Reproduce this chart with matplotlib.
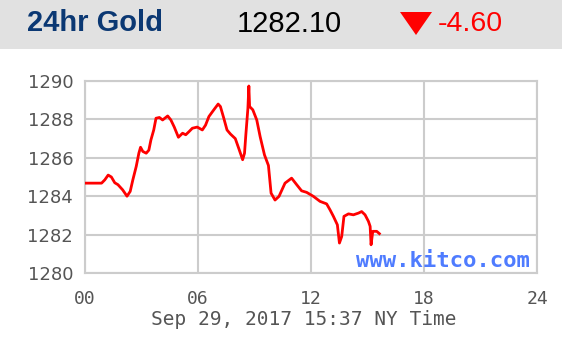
import matplotlib
matplotlib.use('Agg')
import matplotlib.pyplot as plt
from matplotlib.patches import Rectangle, Polygon

# header values
title = '24hr Gold'
last_price = '1282.10'
change = '-4.60'
stamp = 'Sep 29, 2017 15:37 NY Time'
watermark = 'www.kitco.com'

# price trace (hour of day, price)
hours = [0.0, 0.88, 1.05, 1.23, 1.4, 1.58, 1.75, 2.0, 2.23, 2.4, 2.54, 2.72, 2.86, 2.95,
         3.07, 3.25, 3.39, 3.5, 3.65, 3.77, 3.95, 4.12, 4.39, 4.56, 4.74, 4.96, 5.18,
         5.35, 5.53, 5.7, 5.96, 6.23, 6.4, 6.58, 6.84, 7.07, 7.19, 7.37, 7.54, 7.72,
         7.98, 8.16, 8.37, 8.47, 8.54, 8.65, 8.7, 8.74, 8.91, 9.12, 9.3, 9.53, 9.74,
         9.88, 10.09, 10.3, 10.62, 10.97, 11.24, 11.5, 11.77, 12.13, 12.48, 12.83,
         13.01, 13.19, 13.4, 13.51, 13.63, 13.75, 13.99, 14.25, 14.52, 14.69, 14.87,
         15.05, 15.14, 15.19, 15.28, 15.49, 15.63]
prices = [1284.68, 1284.68, 1284.85, 1285.1, 1285.0, 1284.7, 1284.6, 1284.33, 1284.0,
          1284.25, 1284.85, 1285.55, 1286.24, 1286.55, 1286.33, 1286.24, 1286.4, 1286.93,
          1287.45, 1288.06, 1288.1, 1287.97, 1288.18, 1287.97, 1287.6, 1287.07, 1287.28,
          1287.2, 1287.37, 1287.54, 1287.6, 1287.45, 1287.7, 1288.15, 1288.5, 1288.8,
          1288.67, 1288.06, 1287.45, 1287.24, 1287.0, 1286.5, 1285.9, 1286.24, 1287.2,
          1288.58, 1289.74, 1288.67, 1288.5, 1287.97, 1287.1, 1286.15, 1285.6, 1284.16,
          1283.8, 1283.99, 1284.68, 1284.94, 1284.6, 1284.28, 1284.2, 1283.99, 1283.73,
          1283.6, 1283.29, 1282.95, 1282.51, 1281.56, 1281.9, 1282.95, 1283.08, 1283.03,
          1283.12, 1283.2, 1283.03, 1282.69, 1282.43, 1281.47, 1282.17, 1282.17, 1282.05]

x_ticks = [0, 6, 12, 18, 24]
x_labels = ['00', '06', '12', '18', '24']
y_ticks = [1280, 1282, 1284, 1286, 1288, 1290]

fig = plt.figure(figsize=(5.62, 3.46), dpi=100)
fig.patch.set_facecolor('white')

# gray header band
fig.patches.append(Rectangle((0, 0.858), 1, 0.142, transform=fig.transFigure,
                             facecolor='#e1e1e1', edgecolor='none', zorder=0))
fig.text(0.048, 0.934, title, fontsize=21, fontweight='bold', color='#0b3873',
         family='Liberation Sans', va='center', ha='left')
fig.text(0.422, 0.930, last_price, fontsize=21, color='black',
         family='Liberation Sans', va='center', ha='left')
fig.text(0.779, 0.930, change, fontsize=20.5, color='#ff0000',
         family='Liberation Sans', va='center', ha='left')
# down arrow
fig.patches.append(Polygon([[400 / 562, 1 - 12 / 346], [432 / 562, 1 - 12 / 346],
                            [416 / 562, 1 - 35 / 346]], closed=True,
                           transform=fig.transFigure, facecolor='#ff0000',
                           edgecolor='none', zorder=2))

ax = fig.add_axes([85 / 562, 1 - 273 / 346, 452 / 562, 192 / 346])
ax.plot(hours, prices, color='#ff0000', linewidth=2, zorder=3)

ax.set_xlim(0, 24)
ax.set_ylim(1280, 1290)
ax.set_xticks(x_ticks)
ax.set_xticklabels(x_labels)
ax.set_yticks(y_ticks)
ax.grid(True, color='#cccccc', linewidth=1.5)
ax.set_axisbelow(True)
for s in ax.spines.values():
    s.set_color('#cccccc')
    s.set_linewidth(1.5)
ax.tick_params(axis='both', length=0)
ax.tick_params(axis='y', pad=8.5, labelsize=13, labelcolor='#555555')
ax.tick_params(axis='x', pad=12, labelsize=13, labelcolor='#555555')
for lbl in ax.get_xticklabels():
    lbl.set_family('DejaVu Sans Mono')

ax.text(0.985, 0.065, watermark, transform=ax.transAxes, ha='right', va='center',
        fontsize=16, fontweight='bold', family='DejaVu Sans Mono', color='#4f7cff',
        zorder=4)

fig.text(0.540, 0.078, stamp, fontsize=14, color='#555555', family='DejaVu Sans Mono',
         ha='center', va='center')

fig.savefig('out.png', dpi=100)
